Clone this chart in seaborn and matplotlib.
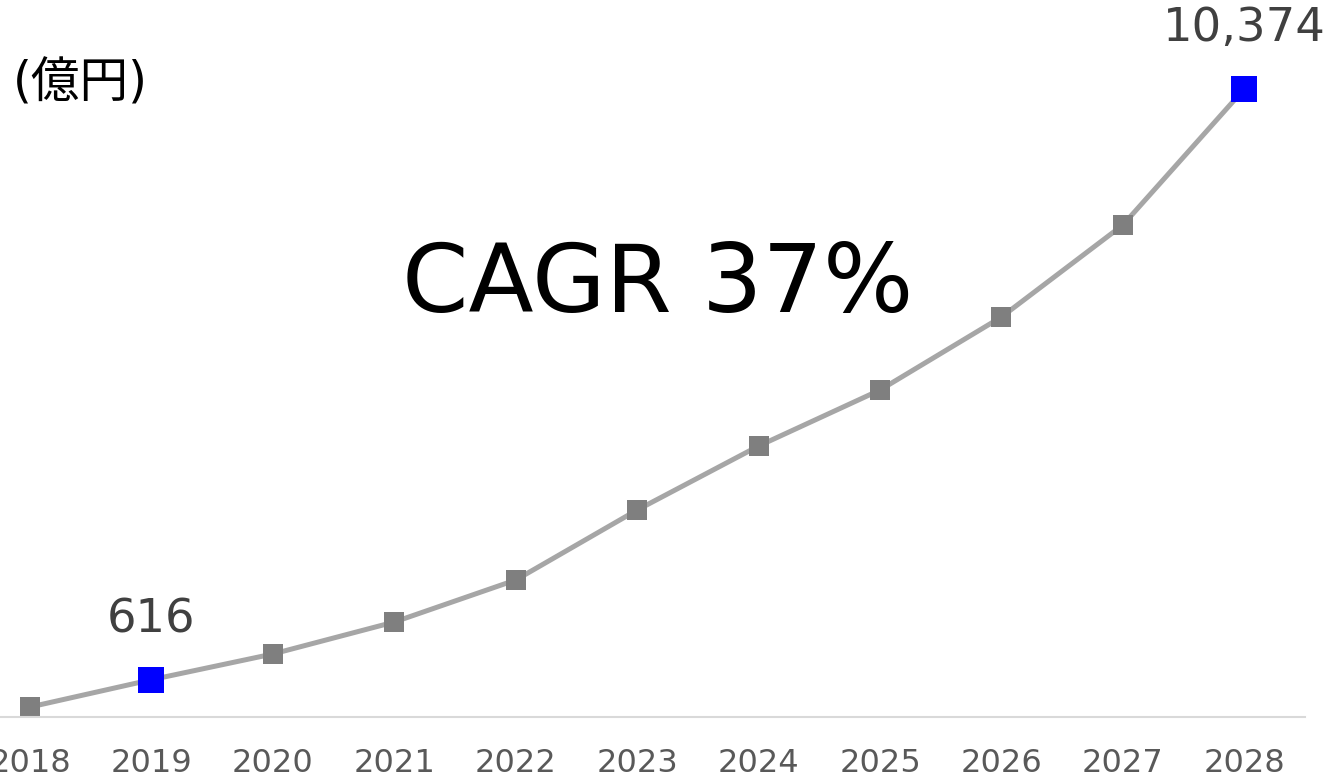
import matplotlib
matplotlib.use("Agg")
import matplotlib.pyplot as plt
import seaborn as sns
import pandas as pd

# Market size (億円), 2018-2028
years = [2018, 2019, 2020, 2021, 2022, 2023, 2024, 2025, 2026, 2027, 2028]
values = [165, 616, 1041, 1569, 2263, 3419, 4476, 5401, 6607, 8127, 10374]
highlight_years = [2019, 2028]
cagr_text = "CAGR 37%"
unit_text = "(億円)"

df = pd.DataFrame({"year": years, "value": values})
hl = df[df["year"].isin(highlight_years)]

sns.set_style("white")
plt.rcParams['font.family'] = ['DejaVu Sans', 'Noto Sans CJK JP']

fig = plt.figure(figsize=(13.3, 7.79), dpi=100)
# axes stretched so the first category is partly cut off, like the original
ax = fig.add_axes([-30.7 / 1330, 62 / 779, 1335.7 / 1330, 717 / 779])

sns.lineplot(data=df, x="year", y="value", ax=ax, color="#a6a6a6", linewidth=3.6,
             marker="s", markersize=13.7, markerfacecolor="#7f7f7f",
             markeredgewidth=0, zorder=2)
sns.scatterplot(data=hl, x="year", y="value", ax=ax, marker="s", s=376,
                color="#0000ff", linewidth=0, zorder=3)

for _, r in hl.iterrows():
    ax.annotate(f"{int(r['value']):,}", (r["year"], r["value"]),
                xytext=(0, 60), textcoords="offset pixels",
                ha="center", va="center", fontsize=33.5, color="#404040")

ax.set_xlim(2017.5, 2028.5)
ax.set_ylim(0, 717 / 0.06054)
ax.set_xticks(years)
ax.set_xticklabels([str(y) for y in years])
ax.set_yticks([])
ax.set_xlabel("")
ax.set_ylabel("")
ax.tick_params(axis="x", length=0, pad=22, labelsize=23, labelcolor="#595959")
for s in ["top", "left", "right"]:
    ax.spines[s].set_visible(False)
ax.spines["bottom"].set_color("#d9d9d9")
ax.spines["bottom"].set_linewidth(1.5)

fig.text(13 / 1330, 1 - 84 / 779, unit_text, fontsize=35, color="black",
         ha="left", va="center")
fig.text(658 / 1330, 1 - 286 / 779, cagr_text, fontsize=68.5, color="black",
         ha="center", va="center")

fig.savefig("out.png", dpi=100)
